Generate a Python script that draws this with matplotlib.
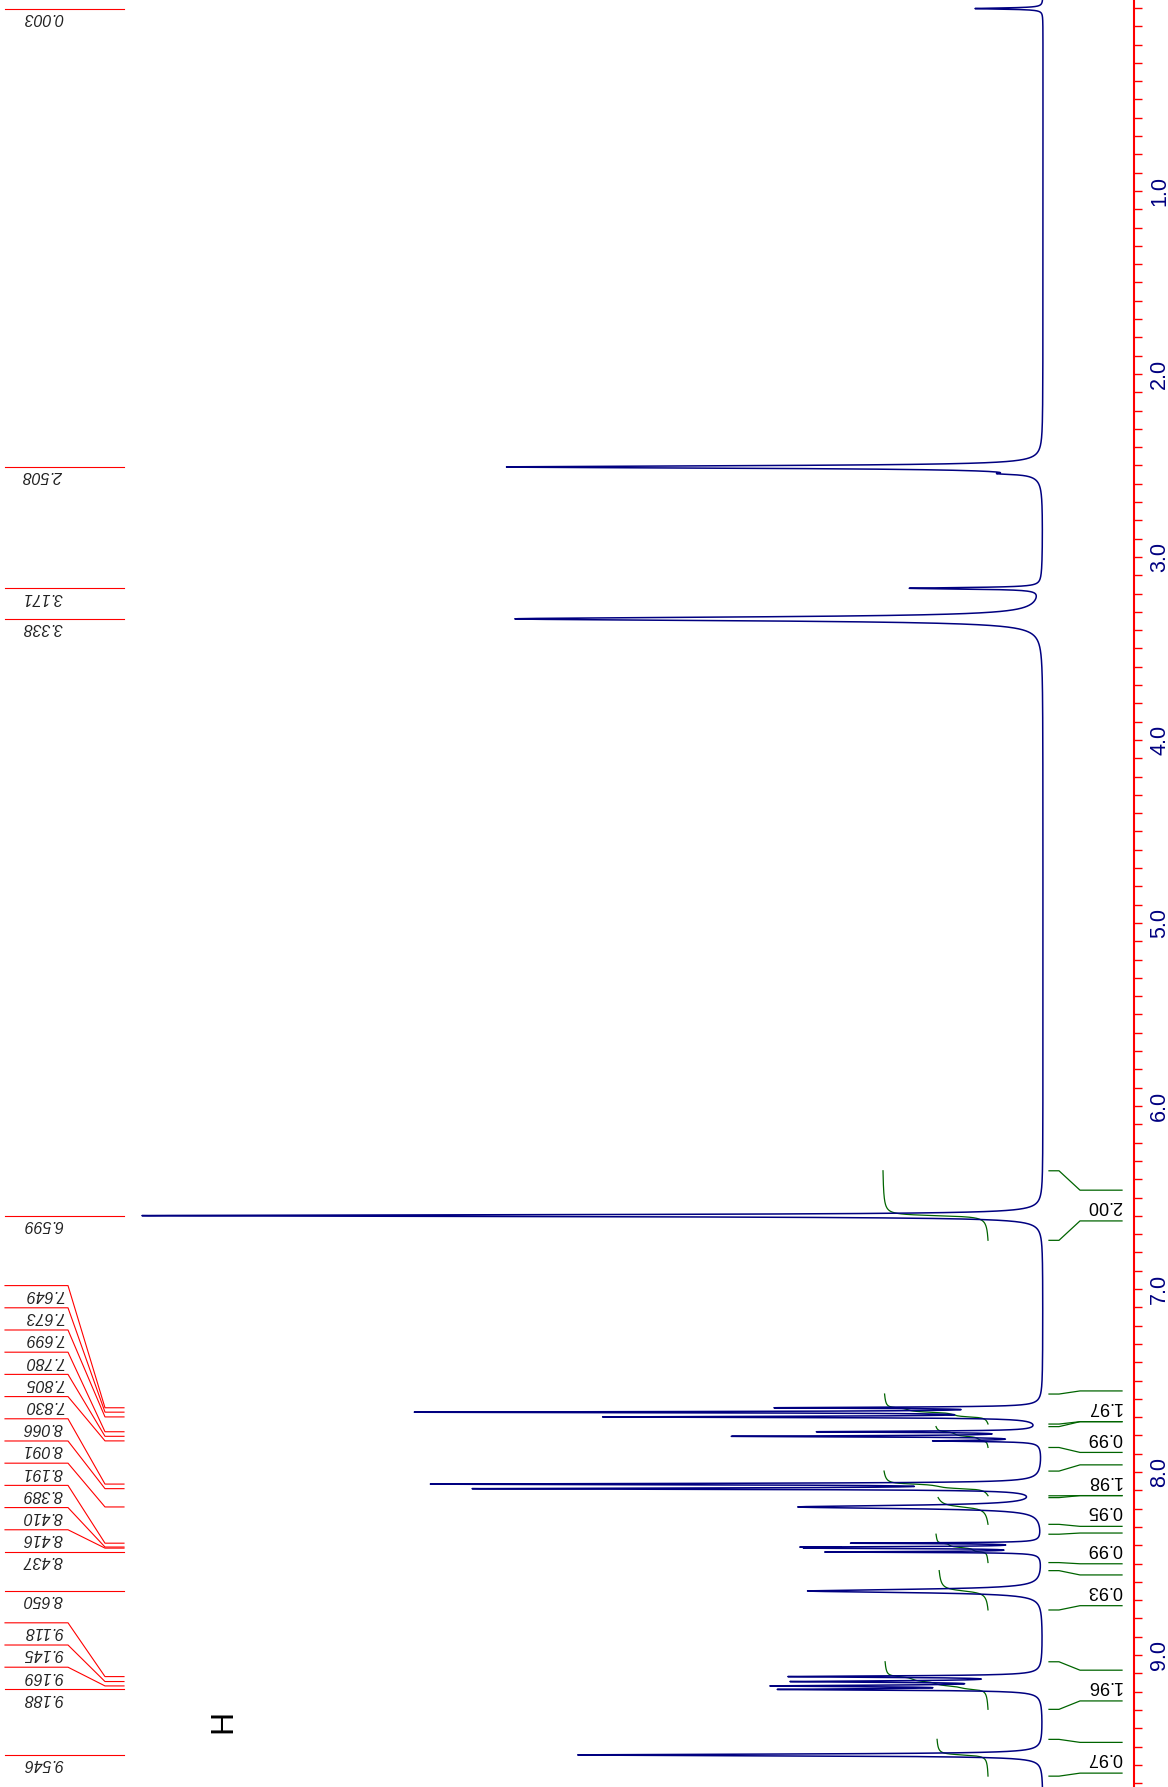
import numpy as np
import matplotlib
matplotlib.use("Agg")
import matplotlib.pyplot as plt
from matplotlib.ticker import MultipleLocator

plt.rcParams['font.family'] = ['Liberation Sans', 'DejaVu Sans']

# peak list: shift (ppm), height, half width (ppm)
peak_ppm = [0.003, 2.508, 2.545, 3.171, 3.338, 6.599,
            7.649, 7.673, 7.699, 7.780, 7.805, 7.830,
            8.066, 8.091, 8.191, 8.389, 8.410, 8.416, 8.437,
            8.650, 9.118, 9.145, 9.169, 9.188, 9.546]
peak_height = [68, 536, 22, 131, 528, 901,
               250, 612, 424, 216, 302, 100,
               594, 550, 243, 184, 197, 192, 210,
               235, 244, 232, 246, 246, 465]
peak_width = [0.004, 0.008, 0.005, 0.005, 0.012, 0.0058,
              0.0039, 0.0039, 0.0039, 0.004, 0.004, 0.004,
              0.0044, 0.0044, 0.0105, 0.003, 0.003, 0.003, 0.003,
              0.0105, 0.0049, 0.0049, 0.0049, 0.0049, 0.0055]

# labelled shifts (red labels on the left)
label_ppm = [0.003, 2.508, 3.171, 3.338, 6.599,
             7.649, 7.673, 7.699, 7.780, 7.805, 7.830,
             8.066, 8.091, 8.191, 8.389, 8.410, 8.416, 8.437,
             8.650, 9.118, 9.145, 9.169, 9.188, 9.546]

# integral regions
int_start = [6.354, 7.574, 7.752, 7.995, 8.140, 8.340, 8.539, 9.037, 9.461]
int_end = [6.734, 7.738, 7.866, 8.130, 8.286, 8.495, 8.754, 9.297, 9.662]
int_value = [2.00, 1.97, 0.99, 1.98, 0.95, 0.99, 0.93, 1.96, 0.97]

axis_ticks = [1.0, 2.0, 3.0, 4.0, 5.0, 6.0, 7.0, 8.0, 9.0]
axis_labels = ['1.0', '2.0', '3.0', '4.0', '5.0', '6.0', '7.0', '8.0', '9.0']

NAVY = '#000080'
GREEN = '#006400'
LABEL_GAP = 0.1213     # min spacing of peak labels (ppm)
INT_HALF = 0.084       # half height of an integral label (ppm)


def spread(pos, gap):
    # push labels upward (to lower ppm) when they crowd
    out = list(pos)
    for i in range(len(out) - 2, -1, -1):
        out[i] = min(out[i], out[i + 1] - gap)
    return out


ppm = np.sort(np.concatenate([np.arange(-0.06, 9.75, 0.0005), peak_ppm]))
spec = np.zeros_like(ppm)
for p, h, g in zip(peak_ppm, peak_height, peak_width):
    spec += h * g**2 / (g**2 + (ppm - p)**2)

fig = plt.figure(figsize=(11.68, 17.87), dpi=100)
ax = fig.add_axes([0, 0, 1134 / 1168, 1])
ax.set_xlim(1043, -91)
ax.set_ylim(9.7213, -0.0437)

# integral curves
for s, e, v in zip(int_start, int_end, int_value):
    m = (ppm >= s) & (ppm <= e)
    p = ppm[m]
    y = spec[m]
    cum = np.concatenate([[0], np.cumsum(np.diff(p) * (y[1:] + y[:-1]) / 2)])
    ax.plot(55 + v * 52.5 * (1 - cum / cum[-1]), p, color=GREEN, lw=0.9)

ax.plot(spec, ppm, color=NAVY, lw=1.1)

# integral labels
centres = spread([(s + e) / 2 for s, e in zip(int_start, int_end)], 2 * INT_HALF)
for s, e, v, c in zip(int_start, int_end, int_value, centres):
    ax.plot([-6, -16, -37, -79], [s, s, c - INT_HALF, c - INT_HALF], color=GREEN, lw=0.9)
    ax.plot([-6, -16, -37, -79], [e, e, c + INT_HALF, c + INT_HALF], color=GREEN, lw=0.9)
    ax.text(-79, c, '%.2f' % v, rotation=180, ha='right', va='center',
            fontsize=13, color='black')

# peak labels
slots = spread(label_ppm, LABEL_GAP)
for p, sl in zip(label_ppm, slots):
    ax.plot([1038, 975, 938, 919], [sl, sl, p, p], color='red', lw=0.8)
    ax.annotate('%.3f' % p, xy=(980, sl), xytext=(0, -1), textcoords='offset points',
                rotation=180, ha='right', va='top', fontsize=11.5, style='italic',
                color='#222222')

ax.text(820, 9.361, 'H', rotation=90, ha='center', va='center', fontsize=23, color='black')

# ppm axis on the right
for side in ['left', 'top', 'bottom']:
    ax.spines[side].set_visible(False)
ax.spines['right'].set_color('red')
ax.spines['right'].set_linewidth(1.5)
ax.set_xticks([])
ax.yaxis.tick_right()
ax.set_yticks(axis_ticks)
ax.set_yticklabels(axis_labels, rotation=90, va='center')
ax.yaxis.set_minor_locator(MultipleLocator(0.1))
ax.tick_params(axis='y', which='both', direction='out', length=5.8, width=1.0,
               color='red', labelcolor=NAVY, labelsize=15.5, pad=5.0)

fig.savefig('out.png', dpi=100)
